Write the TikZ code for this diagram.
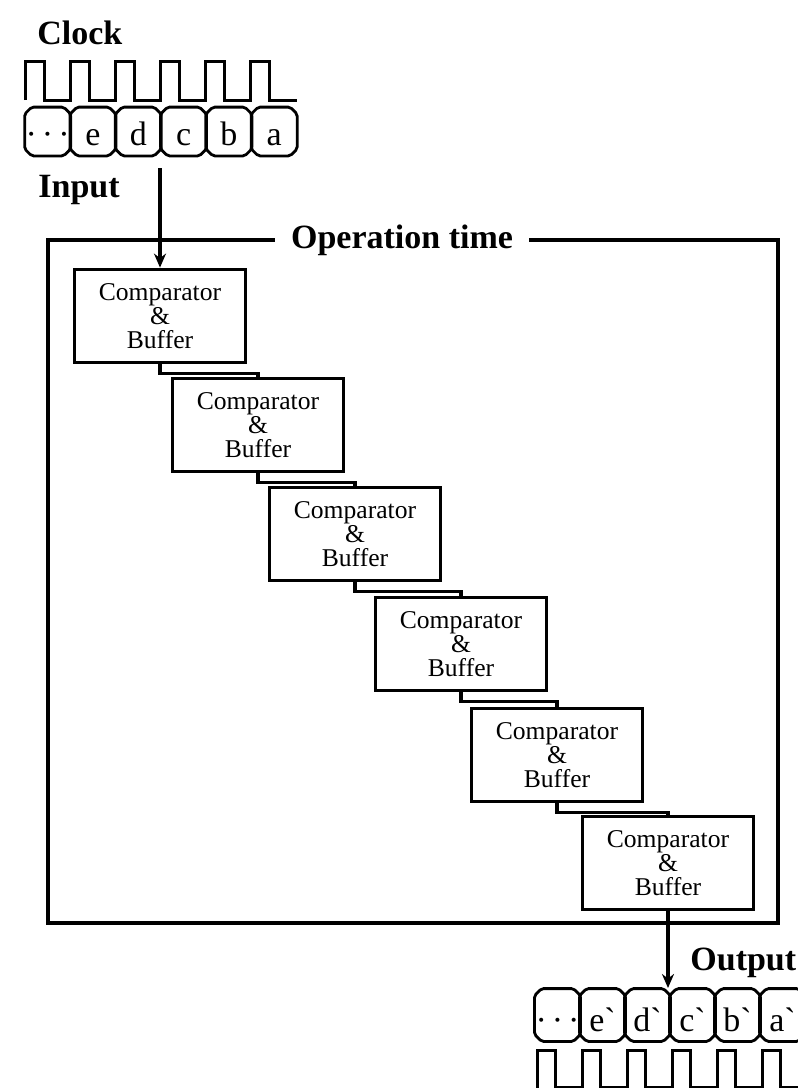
\documentclass[tikz,border=0pt]{standalone}
\usepackage{fontspec}
\setmainfont{Liberation Serif}
\usetikzlibrary{arrows.meta}

% octagonal outline around a token node
\newcommand\chamferbox[2][3.5pt]{%
  \draw[tokenedge] ([xshift=#1]#2.north west) -- ([xshift=-#1]#2.north east)
    -- ([yshift=-#1]#2.north east) -- ([yshift=#1]#2.south east)
    -- ([xshift=-#1]#2.south east) -- ([xshift=#1]#2.south west)
    -- ([yshift=#1]#2.south west) -- ([yshift=-#1]#2.north west) -- cycle;}

\begin{document}
\begin{tikzpicture}[x=0.5pt,y=-0.5pt,
  stage/.style={draw,line width=1.9pt,minimum width=85.5pt,minimum height=46.5pt,
    inner sep=0pt,align=center,font=\fontsize{12.8}{12}\selectfont},
  link/.style={line width=1.9pt},
  flow/.style={line width=1.9pt,-{Stealth[length=7pt,width=6pt]}},
  wave/.style={line width=1.5pt},
  tokenbox/.style={minimum width=22.6pt,minimum height=24pt,inner sep=0pt,
    text height=14pt,text depth=0pt,font=\fontsize{17}{17}\selectfont},
  tokenedge/.style={line width=1.4pt,rounded corners=1pt},
  heading/.style={font=\bfseries\fontsize{17}{17}\selectfont,inner sep=0pt},
  frame/.style={line width=2.4pt}]
\useasboundingbox (0,0) rectangle (798,1088);

% input clock and data stream
\node[heading,anchor=west] (clk) at (37,33) {Clock};
\draw[wave] (25,100) \foreach \k in {0,...,5} {
  -- ({25+45*\k},61) -- ({44+45*\k},61) -- ({44+45*\k},100) -- ({70+45*\k},100)} -- (297,100);
\foreach \lbl [count=\i] in {{·\kern2.5pt·\kern2.5pt·},e,d,c,b,a} {
  \node[tokenbox] (in\i) at ({25+45.3*(\i-1)+22.65},131.5) {\lbl};
  \chamferbox{in\i}
}
\node[heading,anchor=west] (inlbl) at (38,190) {Input};

% pipeline frame
\draw[frame] (48,240) rectangle (778,923);
\node[heading,fill=white,inner xsep=8pt,inner ysep=3pt] (op) at (402,240) {Operation time};

% pipeline stages
\foreach \n/\x/\y in {1/160/316,2/258/425,3/355/534,4/461/644,5/557/755,6/668/863}
  \node[stage] (s\n) at (\x,\y) {Comparator\\\&\\Buffer};
\foreach \a/\b in {1/2,2/3,3/4,4/5,5/6}
  \draw[link] (s\a.south) -- ++(0,9) -| (s\b.north);

\coordinate (inTail) at (160,168);
\draw[flow] (inTail) -- (s1.north);
\coordinate (outHead) at (668,988);
\draw[flow] (s6.south) -- (outHead);

% output data stream and clock
\node[heading,anchor=west] (outlbl) at (690,963) {Output};
\foreach \lbl [count=\i] in {{·\kern2.5pt·\kern2.5pt·},e\textasciigrave,d\textasciigrave,c\textasciigrave,b\textasciigrave,a\textasciigrave} {
  \node[tokenbox,minimum height=26pt,text height=16pt] (out\i) at ({535+45*(\i-1)+22.5},1015) {\lbl};
  \chamferbox{out\i}
}
\draw[wave] (537,1088) \foreach \k in {0,...,5} {
  -- ({537+45*\k},1050) -- ({555+45*\k},1050) -- ({555+45*\k},1087) -- ({582+45*\k},1087)};
\end{tikzpicture}
\end{document}
